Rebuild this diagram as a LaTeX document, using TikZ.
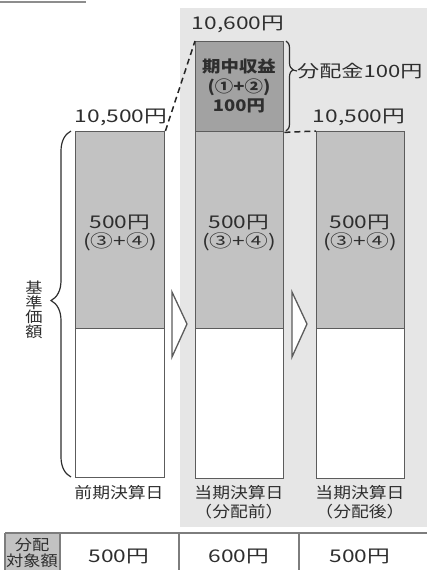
\documentclass[tikz,border=0pt]{standalone}
\usepackage{fontspec}
\setmainfont{Noto Sans CJK JP}[FakeStretch=1.15]
\newfontfamily\numfont{Noto Sans CJK JP}[FakeStretch=1.3]
\usetikzlibrary{decorations.pathreplacing,calc}
\definecolor{bggray}{HTML}{E6E6E6}
\definecolor{midgray}{HTML}{C2C2C2}
\definecolor{darkgray2}{HTML}{A2A2A2}
\definecolor{linegray}{HTML}{5C5C5C}
\definecolor{txt}{HTML}{2E2E2E}
\tikzset{
  bar/.style={draw=linegray, line width=1.4pt, inner sep=0pt, anchor=north west},
  lbl/.style={text=txt, inner sep=0pt, font=\fontsize{15.5}{19}\selectfont, align=center},
  num/.style={text=txt, inner sep=0pt, font=\numfont\fontsize{17.5}{19}\selectfont, align=center},
  tri/.style={draw=linegray, line width=1.3pt, fill=white, line join=miter},
  dashline/.style={line width=1.5pt, dash pattern=on 6pt off 4pt, black!85},
  bracestyle/.style={decorate, line width=1.2pt, txt},
  tline/.style={draw=linegray!80, line width=1.2pt}
}
\begin{document}
\begin{tikzpicture}[x=1pt,y=-1pt]
\useasboundingbox (0,0) rectangle (427,570);
% background
\fill[bggray] (180,8) rectangle (427,527);
% cut-off label box edge at top-left
\draw[linegray!70, line width=2pt] (0,1.5) -- (86,1.5);
% bars
\node[bar, fill=midgray, minimum width=89pt, minimum height=197pt] (b1top) at (75,131) {};
\node[bar, fill=white, minimum width=89pt, minimum height=149pt] (b1bot) at (75,328) {};
\node[bar, fill=darkgray2, minimum width=88pt, minimum height=90pt] (b2dark) at (195,41) {};
\node[bar, fill=midgray, minimum width=88pt, minimum height=197pt] (b2top) at (195,131) {};
\node[bar, fill=white, minimum width=88pt, minimum height=150pt] (b2bot) at (195,328) {};
\node[bar, fill=midgray, minimum width=88pt, minimum height=197pt] (b3top) at (316,131) {};
\node[bar, fill=white, minimum width=88pt, minimum height=150pt] (b3bot) at (316,328) {};
% bar texts
\node[num] (t1) at (120,233) {500円\\(③+④)};
\node[num] (t2) at (239,233) {500円\\(③+④)};
\node[num] (t3) at (360,233) {500円\\(③+④)};
\node[text=txt, inner sep=0pt, align=center, font=\fontsize{16}{19.5}\selectfont\bfseries] (td) at (239,86) {期中収益\\(①+②)\\100円};
% values above
\node[num] (v1) at (121,117) {10,500円};
\node[num] (v2) at (238,24) {10,600円};
\node[num] (v3) at (359,117) {10,500円};
% dashed connectors
\draw[dashline] (b1top.north east) -- (b2dark.north west);
\draw[dashline] (b2dark.south east) -- (b3top.north west);
% triangles
\draw[tri] (172,292) -- (187,324) -- (172,357) -- cycle;
\draw[tri] (292,292) -- (307,324) -- (292,357) -- cycle;
% right brace (dividend)
\draw[bracestyle, decoration={brace, amplitude=7pt, aspect=0.32}] (286,41) -- (286,131);
\coordinate (bt) at (293,70);
\node[text=txt, inner sep=0pt, font=\numfont\fontsize{17}{19}\selectfont, anchor=west] (div) at (297,71) {分配金100円};
\draw[txt, line width=1.2pt] (bt) -- (div.west);
% left brace
\draw[bracestyle, decoration={brace, amplitude=20pt, aspect=0.51}] (71,477) -- (71,131);
\node[lbl, font=\fontsize{15}{14.5}\selectfont] (kijun) at (34,310) {基\\準\\価\\額};
% day labels
\node[lbl] (d1) at (119,493) {前期決算日};
\node[lbl] (d2) at (239,502) {当期決算日\\（分配前）};
\node[lbl] (d3) at (360,502) {当期決算日\\（分配後）};
% table
\fill[midgray] (5,533) rectangle (60,572);
\draw[tline] (5,533) -- (427,533);
\draw[tline] (5,533) -- (5,572);
\draw[tline] (60,533) -- (60,572);
\draw[tline] (179,533) -- (179,572);
\draw[tline] (299,533) -- (299,572);
\node[lbl, font=\fontsize{15}{15.5}\selectfont] (th) at (32,553) {分配\\対象額};
\node[num] (c1) at (119,556) {500円};
\node[num] (c2) at (239,556) {600円};
\node[num] (c3) at (360,556) {500円};
\end{tikzpicture}
\end{document}
